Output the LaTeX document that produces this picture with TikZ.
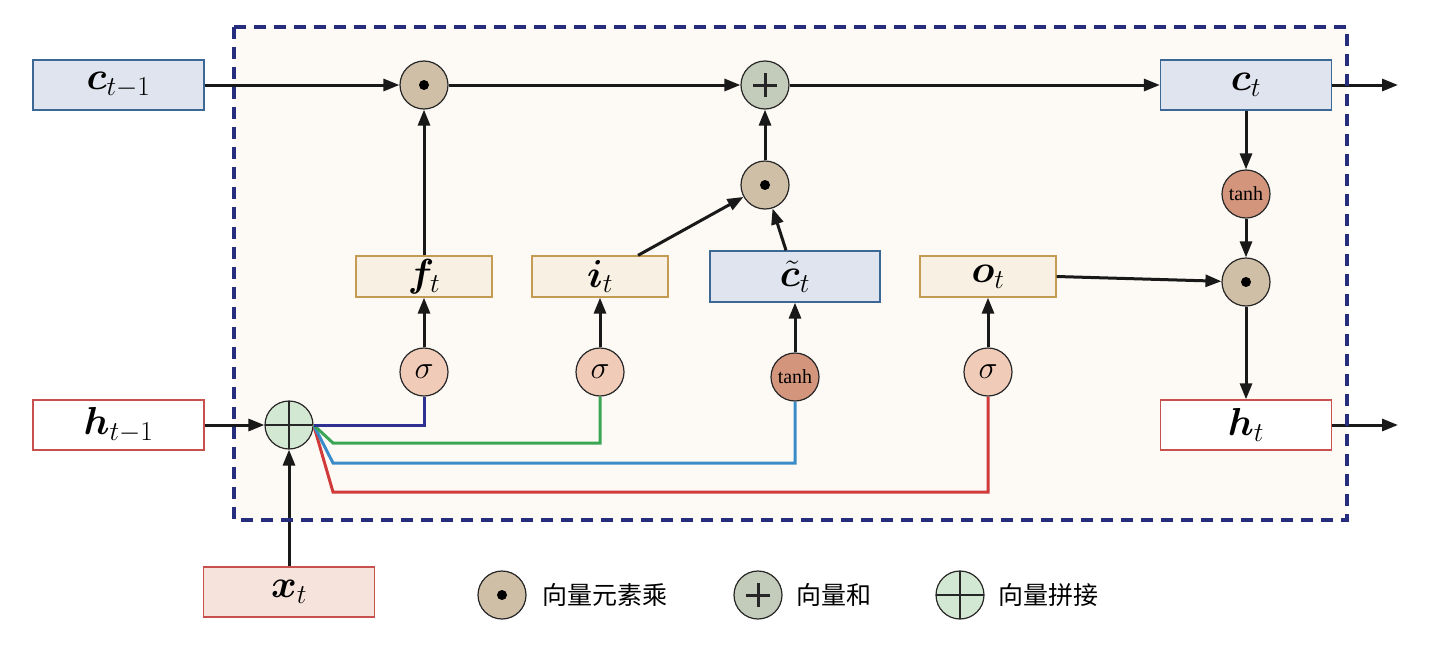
\RequirePackage{fix-cm}
\documentclass[tikz,border=0pt]{standalone}
\usepackage[no-math]{fontspec}
\setmainfont{Liberation Serif}
\newfontfamily\cjk{Noto Sans CJK SC}
\usepackage{bm}
\usetikzlibrary{arrows.meta}
\definecolor{bgc}{HTML}{FDFAF5}
\definecolor{navy}{HTML}{262D7D}
\definecolor{cfill}{HTML}{DFE4EE}
\definecolor{cdraw}{HTML}{3C6896}
\definecolor{gfill}{HTML}{F7F0E3}
\definecolor{gdraw}{HTML}{C39B52}
\definecolor{hdraw}{HTML}{C8504F}
\definecolor{xfill}{HTML}{F6E4DC}
\definecolor{prodfill}{HTML}{CFBFA6}
\definecolor{sumfill}{HTML}{C3CCBA}
\definecolor{catfill}{HTML}{D3E8D3}
\definecolor{sigfill}{HTML}{F0CBB8}
\definecolor{tanhfill}{HTML}{D4957D}
\definecolor{lnavy}{HTML}{2E3192}
\definecolor{lgreen}{HTML}{3AA655}
\definecolor{lblue}{HTML}{3A8CC8}
\definecolor{lred}{HTML}{D03A3A}
\tikzset{
  box/.style={rectangle, minimum width=171pt, minimum height=50pt, line width=1.3pt, inner sep=0pt, font=\fontsize{39}{41}\selectfont},
  cbox/.style={box, fill=cfill, draw=cdraw},
  hbox/.style={box, fill=white, draw=hdraw},
  xbox/.style={box, fill=xfill, draw=hdraw},
  gbox/.style={box, minimum width=136pt, minimum height=41pt, fill=gfill, draw=gdraw},
  op/.style={circle, draw=black!85, line width=1.2pt, minimum size=48pt, inner sep=0pt},
  prod/.style={op, fill=prodfill, path picture={\fill[black] (path picture bounding box.center) circle (5pt);}},
  sumop/.style={op, fill=sumfill, path picture={
     \draw[line width=3pt, black!85] ([xshift=-12pt]path picture bounding box.center) -- ([xshift=12pt]path picture bounding box.center);
     \draw[line width=3pt, black!85] ([yshift=-12pt]path picture bounding box.center) -- ([yshift=12pt]path picture bounding box.center);}},
  catop/.style={op, fill=catfill, path picture={
     \draw[line width=1.4pt, black!85] (path picture bounding box.north) -- (path picture bounding box.south);
     \draw[line width=1.4pt, black!85] (path picture bounding box.west) -- (path picture bounding box.east);}},
  sig/.style={op, fill=sigfill, font=\fontsize{32}{34}\selectfont},
  tanhop/.style={op, fill=tanhfill, font=\fontsize{20}{22}\selectfont},
  arr/.style={line width=3pt, black!90, -{Triangle[length=16pt, width=12pt]}},
  cline/.style={line width=3pt, line join=miter},
  legtext/.style={anchor=west, inner sep=0pt, font=\cjk\fontsize{25}{27}\selectfont},
}
\begin{document}
\begin{tikzpicture}[x=1pt, y=-1pt]
\useasboundingbox (0,0) rectangle (1447,656);
\fill[bgc] (234,27) rectangle (1347,520);

% boxes
\node[cbox] (cprev) at (118.5,85) {$\bm{c}_{t-1}$};
\node[cbox] (ct) at (1246,85) {$\bm{c}_t$};
\node[hbox] (hprev) at (118.5,425) {$\bm{h}_{t-1}$};
\node[hbox] (ht) at (1246,425) {$\bm{h}_t$};
\node[xbox] (xt) at (289,592) {$\bm{x}_t$};
\node[gbox] (ft) at (424,276.5) {$\bm{f}_t$};
\node[gbox] (it) at (600,276.5) {$\bm{i}_t$};
\node[cbox, minimum width=170pt, minimum height=51pt] (ctil) at (795,276.5) {$\tilde{\bm{c}}_t$};
\node[gbox] (ot) at (988,276.5) {$\bm{o}_t$};

% operators
\node[prod] (p1) at (424,85) {};
\node[sumop] (sum) at (765,85) {};
\node[prod] (p2) at (765,185) {};
\node[tanhop] (tc) at (1246,194) {tanh};
\node[prod] (p3) at (1246,282) {};
\node[catop] (cat) at (289,425) {};
\node[sig] (s1) at (424,372) {$\sigma$};
\node[sig] (s2) at (600,372) {$\sigma$};
\node[tanhop] (tm) at (795,377) {tanh};
\node[sig] (s3) at (988,372) {$\sigma$};

\coordinate (cout) at (1398,85);
\coordinate (hout) at (1398,425);

% coloured lines from concatenation
\draw[cline, lred] (cat.east) -- (333,492) -| (s3.south);
\draw[cline, lblue] (cat.east) -- (333,463) -| (tm.south);
\draw[cline, lgreen] (cat.east) -- (333,443) -| (s2.south);
\draw[cline, lnavy] (cat.east) -| (s1.south);

% arrows
\draw[arr] (cprev.east) -- (p1.west);
\draw[arr] (p1.east) -- (sum.west);
\draw[arr] (sum.east) -- (ct.west);
\draw[arr] (ct.east) -- (cout);
\draw[arr] (ft.north) -- (p1.south);
\draw[arr] ([xshift=38pt]it.north) -- (p2);
\draw[arr] ([xshift=-9pt]ctil.north) -- (p2);
\draw[arr] (p2.north) -- (sum.south);
\draw[arr] (ct.south) -- (tc.north);
\draw[arr] (tc.south) -- (p3.north);
\draw[arr] (ot.east) -- (p3);
\draw[arr] (p3.south) -- (ht.north);
\draw[arr] (ht.east) -- (hout);
\draw[arr] (hprev.east) -- (cat.west);
\draw[arr] (xt.north) -- (cat.south);
\draw[arr] (s1.north) -- (ft.south);
\draw[arr] (s2.north) -- (it.south);
\draw[arr] (tm.north) -- (ctil.south);
\draw[arr] (s3.north) -- (ot.south);

% dashed frame
\draw[navy, line width=3.5pt, dash pattern=on 12pt off 8pt] (234,27) rectangle (1347,520);

% legend
\node[prod] (lg1) at (502,595) {};
\node[legtext] (lt1) at (542,595) {向量元素乘};
\node[sumop] (lg2) at (758,595) {};
\node[legtext] (lt2) at (796,595) {向量和};
\node[catop] (lg3) at (960,595) {};
\node[legtext] (lt3) at (998,595) {向量拼接};
\end{tikzpicture}
\end{document}
